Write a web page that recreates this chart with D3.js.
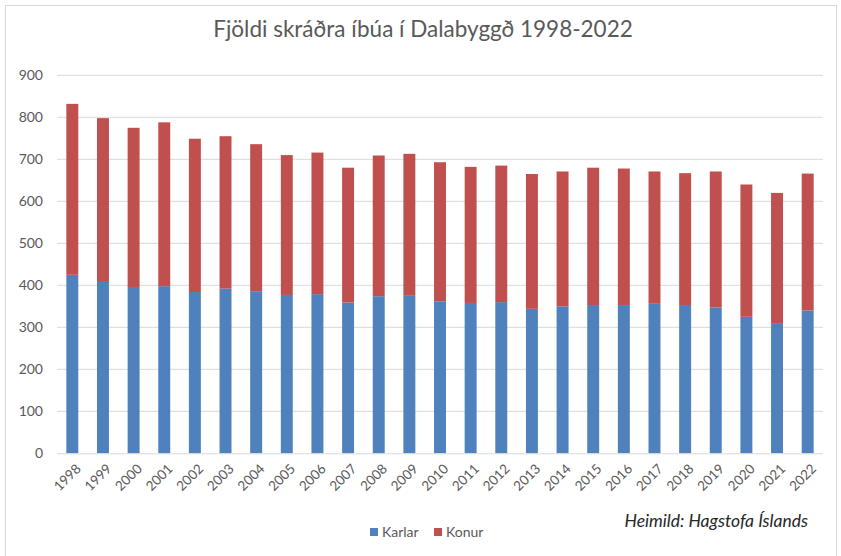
<!DOCTYPE html>
<html>
<head>
<meta charset="UTF-8">
<title>Fjöldi skráðra íbúa í Dalabyggð</title>
<script src="https://d3js.org/d3.v7.min.js"></script>
<style>
	body { margin: 0; background: #fff; }
	text { font-family: Lato, "Open Sans", sans-serif; }
</style>
</head>
<body>
	<div id="svg-container"></div>
	<script type="text/javascript">
		// data
		const years = ["1998","1999","2000","2001","2002","2003","2004","2005","2006","2007","2008","2009",
			"2010","2011","2012","2013","2014","2015","2016","2017","2018","2019","2020","2021","2022"];
		const karlar = [425,408,396,398,384,392,386,377,379,359,374,375,362,358,360,344,350,353,353,356,353,347,325,310,340];
		const totals = [832,798,775,788,749,755,736,710,716,680,709,713,693,682,685,665,671,680,678,671,667,671,640,620,666];
		const konur = totals.map((t, i) => t - karlar[i]);
		const yTicks = [0,100,200,300,400,500,600,700,800,900];
		const seriesNames = ["Karlar", "Konur"];
		const colors = ["#4F81BD", "#C0504D"];

		const width = 841, height = 556;
		const plotLeft = 57, plotRight = 823, plotTop = 75.3, plotBottom = 453.3;

		let svg = d3.select("#svg-container")
			.append("svg")
			.attr("width", width)
			.attr("height", height);

		// chart border
		svg.append("rect")
			.attr("x", 5.5).attr("y", 5.5)
			.attr("width", 831).attr("height", 560)
			.attr("fill", "none")
			.attr("stroke", "#d9d9d9");

		let x = d3.scaleBand()
			.domain(years)
			.range([plotLeft, plotRight])
			.paddingInner(0.61)
			.paddingOuter(0.305);

		let y = d3.scaleLinear()
			.domain([0, 900])
			.range([plotBottom, plotTop]);

		// gridlines
		svg.append("g")
			.selectAll("line")
			.data(yTicks.slice(1))
			.join("line")
			.attr("x1", plotLeft).attr("x2", plotRight)
			.attr("y1", d => y(d)).attr("y2", d => y(d))
			.attr("stroke", "#d9d9d9")
			.attr("stroke-width", 1);

		// y axis labels
		let yAxis = svg.append("g")
			.attr("transform", `translate(${plotLeft - 14},0)`)
			.call(d3.axisLeft(y).tickValues(yTicks).tickSize(0).tickPadding(0));
		yAxis.select(".domain").remove();
		yAxis.selectAll("text")
			.attr("font-size", 14)
			.attr("font-family", "Lato, 'Open Sans', sans-serif")
			.attr("fill", "#595959");

		// stacked bars
		let stack = d3.stack().keys([0, 1])(years.map((yr, i) => [karlar[i], konur[i]]));
		svg.append("g")
			.selectAll("g")
			.data(stack)
			.join("g")
			.attr("fill", (d, i) => colors[i])
			.selectAll("rect")
			.data(d => d)
			.join("rect")
			.attr("x", (d, i) => x(years[i]))
			.attr("width", x.bandwidth())
			.attr("y", d => y(d[1]))
			.attr("height", d => y(d[0]) - y(d[1]));

		// x axis
		let xAxis = svg.append("g")
			.attr("transform", `translate(0,${plotBottom})`)
			.call(d3.axisBottom(x).tickSize(0).tickPadding(0));
		xAxis.select(".domain")
			.attr("d", `M${plotLeft},0.5H${plotRight}`)
			.attr("stroke", "#d9d9d9");
		xAxis.selectAll("text")
			.attr("font-size", 13.5)
			.attr("font-family", "Lato, 'Open Sans', sans-serif")
			.attr("fill", "#595959")
			.attr("text-anchor", "end")
			.attr("dy", "0.35em")
			.attr("transform", "translate(6,13) rotate(-45)");

		// title
		svg.append("text")
			.attr("x", 423)
			.attr("y", 37)
			.attr("text-anchor", "middle")
			.attr("font-size", 22.5)
			.attr("fill", "#595959")
			.text("Fjöldi skráðra íbúa í Dalabyggð 1998-2022");

		// legend
		let legend = svg.append("g")
			.selectAll("g")
			.data(seriesNames)
			.join("g")
			.attr("transform", (d, i) => `translate(${i ? 434 : 370},528)`);
		legend.append("rect")
			.attr("width", 8).attr("height", 8)
			.attr("fill", (d, i) => colors[i]);
		legend.append("text")
			.attr("x", 12).attr("y", 4)
			.attr("dy", "0.35em")
			.attr("font-size", 14)
			.attr("fill", "#595959")
			.text(d => d);

		// source
		svg.append("text")
			.attr("x", 808)
			.attr("y", 527)
			.attr("text-anchor", "end")
			.attr("font-size", 17.5)
			.attr("font-style", "italic")
			.attr("fill", "#262626")
			.text("Heimild: Hagstofa Íslands");
	</script>
</body>
</html>
